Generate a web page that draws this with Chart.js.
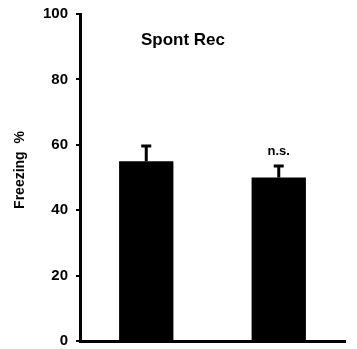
<!DOCTYPE html>
<html>
<head>
<meta charset="utf-8">
<script src="https://cdn.jsdelivr.net/npm/chart.js@4.4.1/dist/chart.umd.min.js"></script>
<style>
    html, body { margin: 0; padding: 0; background: #fff; }
    canvas { display: block; }
</style>
</head>
<body>
<canvas id="freezeChart" width="357" height="349"></canvas>
<script>
// Freezing during spontaneous recovery, two groups
const groups = ["Group A", "Group B"];
const freezing = [55, 50];
const sem = [4.6, 3.5];
const significance = ["", "n.s."];
const yTicks = [0, 20, 40, 60, 80, 100];

const FONT = "Arial, 'Liberation Sans', sans-serif";

// Error bars, titles and significance marks
const annotations = {
    id: "annotations",
    afterDatasetsDraw(chart) {
        const ctx = chart.ctx;
        const y = chart.scales.y;
        const meta = chart.getDatasetMeta(0);
        ctx.save();
        ctx.strokeStyle = "#000";
        ctx.lineWidth = 3;
        meta.data.forEach((bar, i) => {
            const top = y.getPixelForValue(freezing[i] + sem[i]);
            ctx.beginPath();
            ctx.moveTo(bar.x, bar.y);
            ctx.lineTo(bar.x, top);
            ctx.moveTo(bar.x - 5, top);
            ctx.lineTo(bar.x + 5, top);
            ctx.stroke();
            if (significance[i]) {
                ctx.fillStyle = "#000";
                ctx.font = "bold 13px " + FONT;
                ctx.textAlign = "center";
                ctx.textBaseline = "middle";
                ctx.fillText(significance[i], bar.x, top - 15);
            }
        });
        ctx.fillStyle = "#000";
        ctx.textAlign = "center";
        ctx.textBaseline = "middle";
        ctx.font = "bold 17px " + FONT;
        ctx.fillText("Spont Rec", 183, y.getPixelForValue(92));

        // y axis title
        ctx.font = "bold 14px " + FONT;
        ctx.translate(20, 170);
        ctx.rotate(-Math.PI / 2);
        ctx.fillText("Freezing  %", 0, 0);
        ctx.restore();
    },
};

const config = {
    type: "bar",
    data: {
        labels: groups,
        datasets: [
            {
                data: freezing,
                backgroundColor: "#000",
                borderWidth: 0,
                categoryPercentage: 1,
                barPercentage: 0.41,
            },
        ],
    },
    options: {
        responsive: false,
        animation: false,
        layout: { padding: { top: 14, right: 12, left: 0, bottom: 0 } },
        plugins: {
            legend: { display: false },
            tooltip: { enabled: false },
        },
        scales: {
            x: {
                grid: { display: false },
                border: { color: "#000", width: 3 },
                ticks: { display: false },
                afterFit(scale) {
                    scale.height = 8;
                    scale.paddingLeft = 0;
                    scale.paddingRight = 0;
                },
            },
            y: {
                min: 0,
                max: 100,
                afterBuildTicks(scale) {
                    scale.ticks = yTicks.map((v) => ({ value: v }));
                },
                grid: {
                    drawOnChartArea: false,
                    drawTicks: true,
                    tickLength: 4,
                    color: "#000",
                    lineWidth: 2,
                },
                border: { color: "#000", width: 3 },
                ticks: {
                    color: "#000",
                    padding: 8,
                    font: { family: FONT, size: 15, weight: "bold" },
                },
                afterFit(scale) {
                    scale.width = 80;
                    scale.paddingTop = 0;
                    scale.paddingBottom = 0;
                },
            },
        },
    },
    plugins: [annotations],
};

const ctx = document.getElementById("freezeChart").getContext("2d");
new Chart(ctx, config);
</script>
</body>
</html>
